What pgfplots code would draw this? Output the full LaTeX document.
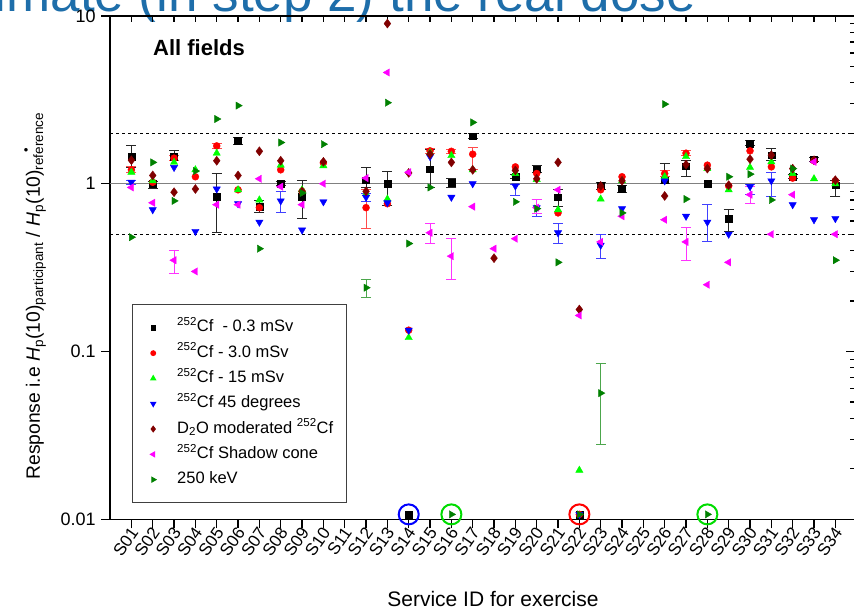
\documentclass[border=0pt]{standalone}
\usepackage{pgfplots}
\pgfplotsset{compat=1.18}
\usepackage{fontspec}
\setmainfont{Liberation Sans}
\definecolor{dkgreen}{RGB}{0,128,0}
\definecolor{ltgreen}{RGB}{0,255,0}
\definecolor{brn}{RGB}{128,0,0}
\definecolor{mag}{RGB}{255,0,255}
\definecolor{titleblue}{RGB}{30,110,170}
\definecolor{circgreen}{RGB}{0,220,0}
\pgfplotsset{ebar/.style={error bars/.cd, y dir=both, y explicit,
  error bar style={line width=1pt, #1},
  error mark options={rotate=90, mark size=5pt, line width=1pt, #1}}}
\begin{document}
\begin{tikzpicture}[x=1pt,y=1pt]
\node[anchor=base east, text=titleblue, font=\fontsize{53}{56}\selectfont, inner sep=0pt] at (696,602) {Estimate (in step 2) the real dose};
% top ticks
\begin{axis}[at={(110.07pt,94.7pt)}, anchor=south west, scale only axis,
  width=746.6pt, height=503.4pt, xmin=0, xmax=35, ymode=log, ymin=0.01, ymax=10,
  axis x line*=top, axis y line=none, xtick={1,...,34}, xticklabels={},
  tick align=inside, major tick length=6pt,
  axis line style={line width=1.5pt}, tick style={line width=1.3pt, black}]
\end{axis}
% right ticks
\begin{axis}[at={(110.07pt,94.7pt)}, anchor=south west, scale only axis,
  width=746.6pt, height=503.4pt, xmin=0, xmax=35, ymode=log, ymin=0.01, ymax=10,
  axis y line*=right, axis x line=none, ytick={0.01,0.1,1,10}, yticklabels={},
  tick align=inside, major tick length=11pt, minor tick length=7pt,
  axis line style={line width=1.5pt}, tick style={line width=1.3pt, black}]
\end{axis}
\begin{axis}[at={(110.07pt,94.7pt)}, anchor=south west, scale only axis,
  width=746.6pt, height=503.4pt, xmin=0, xmax=35, ymode=log, ymin=0.01, ymax=10,
  axis x line*=bottom, axis y line*=left, clip=false,
  tick align=outside, major tick length=9pt, yminorticks=false,
  axis line style={line width=1.5pt, -}, tick style={line width=1.3pt, black},
  xtick={1,...,34},
  xticklabels={S01,S02,S03,S04,S05,S06,S07,S08,S09,S10,S11,S12,S13,S14,S15,S16,S17,S18,S19,S20,S21,S22,S23,S24,S25,S26,S27,S28,S29,S30,S31,S32,S33,S34},
  ytick={0.01,0.1,1,10}, yticklabels={0.01,0.1,1,10},
  /pgf/number format/assume math mode=true,
  yticklabel style={font=\fontsize{18}{20}\selectfont, xshift=-2pt},
  xticklabel style={font=\fontsize{17}{20}\selectfont, rotate=55, anchor=east, inner sep=1pt, xshift=2pt, yshift=-3pt},
  legend image code/.code={\path (0pt,0pt) (17pt,0pt); \draw[#1] plot coordinates {(8.5pt,0pt)};},
  legend style={at={(0.029,0.427)}, anchor=north west, draw=black!75, line width=1pt,
    fill=white, font=\fontsize{16.5}{18}\selectfont, inner xsep=12pt, inner ysep=14pt,
    row sep=7.3pt, nodes={inner sep=1pt, text height=12pt, text depth=4pt},
    /tikz/every odd column/.append style={column sep=14pt}},
  legend cell align=left,
  ]
\addplot[gray, line width=1.5pt, forget plot] coordinates {(0,1) (35,1)};
\addplot[black, line width=0.8pt, dash pattern=on 3pt off 3pt, forget plot] coordinates {(0,2) (35,2)};
\addplot[black, line width=0.8pt, dash pattern=on 3pt off 3pt, forget plot] coordinates {(0,0.5) (35,0.5)};
% 252Cf 0.3 mSv
\addplot[only marks, mark=square*, mark size=3.4pt, black, forget plot, ebar={black!85}] coordinates {
(1,1.45) += (0,0.25) -= (0,0.2)
(2,1.0) += (0,0.03) -= (0,0.06)
(3,1.45) += (0,0.12) -= (0,0.08)
(5,0.84) += (0,0.31) -= (0,0.33)
(6,1.80) += (0,0.08) -= (0,0.08)
(7,0.73) += (0,0.06) -= (0,0.06)
(8,1.0) += (0,0.03) -= (0,0.03)
(9,0.84) += (0,0.2) -= (0,0.22)
(12,1.05) += (0,0.2) -= (0,0.1)
(13,1.0) += (0,0.19) -= (0,0.26)
(14,0.0107)
(15,1.22) += (0,0.37) -= (0,0.27)
(16,1.01) += (0,0.07) -= (0,0.06)
(17,1.92) += (0,0.07) -= (0,0.07)
(19,1.1) += (0,0.03) -= (0,0.03)
(20,1.22) += (0,0.06) -= (0,0.06)
(21,0.83) += (0,0.09) -= (0,0.1)
(22,0.0107)
(23,0.97) += (0,0.05) -= (0,0.05)
(24,0.93) += (0,0.04) -= (0,0.04)
(26,1.05) += (0,0.27) -= (0,0.05)
(27,1.27) += (0,0.1) -= (0,0.17)
(28,1.0)
(29,0.62) += (0,0.08) -= (0,0.1)
(30,1.74) += (0,0.06) -= (0,0.06)
(31,1.48) += (0,0.15) -= (0,0.1)
(32,1.1) += (0,0.03) -= (0,0.03)
(33,1.40) += (0,0.04) -= (0,0.04)
(34,0.98) += (0,0.06) -= (0,0.14)
};
% 252Cf 3.0 mSv
\addplot[only marks, mark=*, mark size=3.5pt, red, forget plot, ebar={red!70}] coordinates {
(1,1.21) += (0,0.05) -= (0,0.05)
(2,1.02) (3,1.42) += (0,0.05) -= (0,0.05)
(4,1.10) (5,1.68) += (0,0.06) -= (0,0.06)
(6,0.92) (7,0.72) (8,1.21) (9,0.9) (10,1.33)
(12,0.72) += (0,0.2) -= (0,0.18)
(13,0.76) (14,0.134) (15,1.57) += (0,0.05) -= (0,0.05)
(16,1.56) += (0,0.05) -= (0,0.05)
(17,1.50) += (0,0.14) -= (0,0.29)
(19,1.26) (20,1.15) (21,0.67) (22,0.0107) (23,0.92)
(24,1.10) (26,1.15) += (0,0.05) -= (0,0.05)
(27,1.52) += (0,0.05) -= (0,0.05)
(28,1.29) (29,0.97) (30,1.57) (31,1.26) (32,1.08) (33,1.37) (34,1.04)
};
% 252Cf 15 mSv
\addplot[only marks, mark=triangle*, mark size=4.2pt, ltgreen, forget plot, ebar={ltgreen!80!black}] coordinates {
(1,1.17) (2,1.04) (3,1.34) (4,1.21) (5,1.52) (6,0.92) (7,0.80) (8,1.29) (9,0.92) (10,1.28)
(12,0.87) (13,0.81) (14,0.121) (15,1.53) (16,1.47) (17,1.21) (19,1.15) (20,1.06) (21,0.70)
(22,0.0196) (23,0.81) (24,1.04) (26,1.10) (27,1.45) (28,1.23) (29,0.92) (30,1.25) (31,1.35)
(32,1.15) (33,1.07) (34,1.0)
};
% 252Cf 45 degrees
\addplot[only marks, mark=triangle*, mark options={rotate=180}, mark size=4.2pt, blue, forget plot, ebar={blue!75}] coordinates {
(1,1.02) += (0,0.03) -= (0,0.03)
(2,0.70) (3,1.25) (4,0.52) (5,0.93) (6,0.76) (7,0.59)
(8,0.79) += (0,0.11) -= (0,0.12)
(9,0.53) (10,0.78) (12,0.83) += (0,0.05) -= (0,0.05)
(13,0.77) (14,0.134) (15,1.45) (16,0.83) (17,1.0)
(19,0.97) += (0,0.02) -= (0,0.12)
(20,0.72) += (0,0.08) -= (0,0.08)
(21,0.51) += (0,0.07) -= (0,0.07)
(22,0.0107)
(23,0.43) += (0,0.07) -= (0,0.07)
(24,0.71) (26,1.04) (27,0.64)
(28,0.59) += (0,0.16) -= (0,0.14)
(29,0.50) (30,0.96) += (0,0.03) -= (0,0.1)
(31,1.04) += (0,0.12) -= (0,0.2)
(32,0.75) (33,0.61) (34,0.62)
};
% D2O moderated
\addplot[only marks, mark=diamond*, mark size=4.5pt, brn, forget plot, ebar={brn!80}] coordinates {
(1,1.38) (2,1.12) (3,0.89) (4,0.93) (5,1.37) (6,1.12) (7,1.56) (8,1.37) (9,0.90) (10,1.35)
(12,0.90) (13,9.0) (14,1.16) (15,1.50) (16,1.34) (17,1.21) (18,0.36) (19,1.2) (20,1.07) (21,1.34)
(22,0.178) (23,0.97) (24,1.04) (26,0.845) (27,1.30) (28,1.23) (29,0.98) (30,1.40) (31,1.48)
(32,1.23) (33,1.38) (34,1.05)
};
% Shadow cone
\addplot[only marks, mark=triangle*, mark options={rotate=90}, mark size=4.2pt, mag, forget plot, ebar={mag!80}] coordinates {
(1,0.95) (2,0.77) (3,0.35) += (0,0.05) -= (0,0.06)
(4,0.30) (5,0.75) (6,0.75) (7,1.07) (8,0.96) (9,0.75) (10,1.0) (12,1.08) (13,4.6) (14,1.17)
(15,0.51) += (0,0.07) -= (0,0.07)
(16,0.37) += (0,0.1) -= (0,0.1)
(17,0.73) (18,0.41) (19,0.47) (20,0.72) += (0,0.08) -= (0,0.06)
(21,0.92) (22,0.164) (23,0.45) (24,0.64) (26,0.61)
(27,0.45) += (0,0.1) -= (0,0.1)
(28,0.25) (29,0.34) (30,0.86) += (0,0.1) -= (0,0.1)
(31,0.50) (32,0.86) (33,1.35) (34,0.50)
};
% 250 keV
\addplot[only marks, mark=triangle*, mark options={rotate=-90}, mark size=4.2pt, dkgreen, forget plot, ebar={dkgreen!70}] coordinates {
(1,0.48) (2,1.34) (3,0.79) (4,1.19) (5,2.43) (6,2.92) (7,0.41) (8,1.76) (9,0.88) (10,1.72)
(12,0.24) += (0,0.03) -= (0,0.03)
(13,3.04) (14,0.44) (15,0.95) (16,0.0107) (17,2.32) (19,0.78) (20,0.71) (21,0.34) (22,0.0107)
(23,0.0565) += (0,0.028) -= (0,0.0285)
(24,0.67) (26,2.98) (27,0.81) (28,0.0107) (29,1.10) (30,1.14) (31,0.80) (32,1.23) (34,0.35)
};
% highlight circles
\addplot[only marks, mark=o, mark size=10pt, line width=2pt, blue, forget plot] coordinates {(14,0.0107)};
\addplot[only marks, mark=o, mark size=10pt, line width=2pt, circgreen, forget plot] coordinates {(16,0.0107) (28,0.0107)};
\addplot[only marks, mark=o, mark size=10pt, line width=2pt, red, forget plot] coordinates {(22,0.0107)};
% legend
\addlegendimage{mark=square*, mark size=2.2pt, black}
\addlegendentry{\textsuperscript{252}Cf\ \ - 0.3 mSv}
\addlegendimage{mark=*, mark size=2.4pt, red}
\addlegendentry{\textsuperscript{252}Cf - 3.0 mSv}
\addlegendimage{mark=triangle*, mark size=2.8pt, ltgreen}
\addlegendentry{\textsuperscript{252}Cf - 15 mSv}
\addlegendimage{mark=triangle*, mark options={rotate=180}, mark size=2.8pt, blue}
\addlegendentry{\textsuperscript{252}Cf 45 degrees}
\addlegendimage{mark=diamond*, mark size=2.8pt, brn}
\addlegendentry{D\textsubscript{2}O moderated \textsuperscript{252}Cf\hspace{16pt}}
\addlegendimage{mark=triangle*, mark options={rotate=90}, mark size=2.8pt, mag}
\addlegendentry{\textsuperscript{252}Cf Shadow cone}
\addlegendimage{mark=triangle*, mark options={rotate=-90}, mark size=2.8pt, dkgreen}
\addlegendentry{250 keV}
\end{axis}
\node[anchor=base west, font=\bfseries\fontsize{22}{24}\selectfont, inner sep=0pt] at (153,558) {All fields};
\node[anchor=base, font=\fontsize{21}{24}\selectfont, inner sep=0pt] at (493,8) {Service ID for exercise};
\node[rotate=90, anchor=center, font=\fontsize{19.3}{24}\selectfont, inner sep=0pt] at (35,318)
 {Response i.e \textit{H}\textsubscript{p}(10)\textsubscript{participant} / \textit{H}\textsubscript{p}(10)\makebox[0pt][l]{\hspace{0.9em}\raisebox{0.5em}{\fontsize{13}{13}\selectfont •}}\textsubscript{reference}};
\pgfresetboundingbox
\useasboundingbox (0,0) rectangle (854,614);
\end{tikzpicture}
\end{document}
